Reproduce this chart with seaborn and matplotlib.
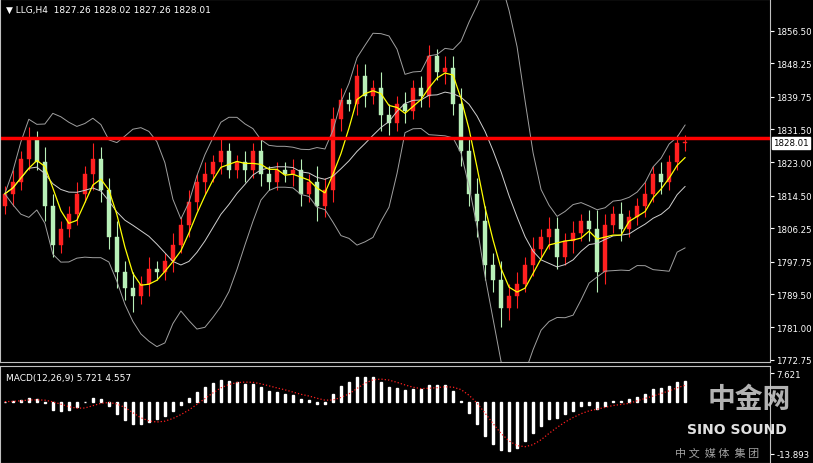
import matplotlib.pyplot as plt
import seaborn as sns
import numpy as np
import pandas as pd

# closing prices
closes = [1815, 1818, 1824, 1829, 1823, 1812, 1802, 1806, 1810, 1815,
          1820, 1824, 1816, 1804, 1795, 1791, 1789, 1792, 1796, 1795,
          1798, 1802, 1807, 1813, 1818, 1820, 1823, 1826, 1821, 1823,
          1821, 1826, 1820, 1818, 1821, 1820, 1821, 1815, 1818, 1812,
          1816, 1834, 1839, 1838, 1845, 1840, 1842, 1835, 1833, 1838,
          1836, 1842, 1840, 1850, 1846, 1847, 1838, 1826, 1815, 1808,
          1797, 1793, 1786, 1789, 1792, 1797, 1801, 1804, 1806, 1799,
          1803, 1805, 1808, 1806, 1795, 1807, 1810, 1806, 1809, 1812,
          1815, 1820, 1818, 1823, 1828, 1828]
first_open = 1812
wicks = [2, 3, 2, 3, 2, 4, 3, 2, 2, 3, 2, 4, 3, 3, 4, 3, 4, 2, 3, 2,
         2, 3, 2, 3, 2, 3, 2, 3, 2, 2, 3, 2, 3, 2, 2, 2, 3, 3, 2, 4,
         3, 3, 3, 2, 3, 3, 2, 4, 3, 2, 3, 2, 3, 3, 2, 3, 3, 4, 3, 4,
         4, 3, 5, 3, 3, 2, 3, 2, 3, 3, 2, 3, 2, 3, 5, 3, 2, 3, 2, 2,
         3, 2, 3, 2, 2, 2]
price_ticks = [1856.50, 1848.25, 1839.75, 1831.50, 1823.00, 1814.50,
               1806.25, 1797.75, 1789.50, 1781.00, 1772.75]
resistance = 1829.3
last_price = 1828.01

df = pd.DataFrame({'close': closes, 'wick': wicks})
df['open'] = df['close'].shift(1).fillna(first_open)
df['high'] = df[['open', 'close']].max(axis=1) + df['wick']
df['low'] = df[['open', 'close']].min(axis=1) - df['wick']
df['ma'] = df['close'].rolling(4, min_periods=1).mean()
mid = df['close'].rolling(10, min_periods=1).mean()
sd = df['close'].rolling(10, min_periods=1).std().fillna(0)
df['bb_mid'], df['bb_up'], df['bb_lo'] = mid, mid + 2 * sd, mid - 2 * sd
ema_f = df['close'].ewm(span=6).mean()
ema_s = df['close'].ewm(span=13).mean()
df['macd'] = ema_f - ema_s
df['signal'] = df['macd'].rolling(5, min_periods=1).mean()
x = np.arange(len(df))

sns.set_style('dark')
plt.rcParams['font.family'] = ['DejaVu Sans', 'Noto Sans CJK SC']
fig = plt.figure(figsize=(8.13, 4.64), dpi=100, facecolor='black')
ax = fig.add_axes([0.0, 1 - 363 / 464, 770 / 813, 363 / 464])
ax2 = fig.add_axes([0.0, 0.0, 770 / 813, 97 / 464])
for a in (ax, ax2):
    a.set_facecolor('black')
    for s in a.spines.values():
        s.set_color('#c0c0c0')
        s.set_linewidth(0.8)
    a.grid(False)
    a.yaxis.tick_right()
    a.tick_params(colors='white', labelsize=6.2, length=3, direction='out', pad=1.5)
    a.set_xticks([])
    a.set_xlim(-0.6, 95.6)

up = df['close'] >= df['open']
for i, r in df.iterrows():
    col = '#ff2020' if up[i] else '#b8f0b8'
    ax.vlines(i, r['low'], r['high'], color=col, lw=0.8)
    ax.bar(i, abs(r['close'] - r['open']) or 0.3, bottom=min(r['open'], r['close']),
           width=0.55, color=col, edgecolor=col, lw=0.3)

sns.lineplot(x=x, y=df['bb_up'], ax=ax, color='#a0a0a0', lw=0.7)
sns.lineplot(x=x, y=df['bb_lo'], ax=ax, color='#a0a0a0', lw=0.7)
sns.lineplot(x=x, y=df['bb_mid'], ax=ax, color='#d0d0d0', lw=0.7)
sns.lineplot(x=x, y=df['ma'], ax=ax, color='#ffff00', lw=0.9)
ax.axhline(resistance, color='#ff0000', lw=2.5)
ax.set_ylim(1772.2, 1864.6)
ax.set_yticks(price_ticks)
ax.set_yticklabels([f'{t:.2f}' for t in price_ticks])
ax.set_ylabel('')
ax.text(1.004, last_price, f'{last_price:.2f}', transform=ax.get_yaxis_transform(),
        va='center', ha='left', fontsize=6.2, color='black',
        bbox=dict(facecolor='white', edgecolor='white', pad=1))
ax.text(0.008, 0.985, '\u25bc LLG,H4  1827.26 1828.02 1827.26 1828.01',
        transform=ax.transAxes, va='top', fontsize=6.5, color='white')

ax2.bar(x, df['macd'], width=0.2, color='white')
sns.lineplot(x=x, y=df['signal'], ax=ax2, color='#ff2020', lw=0.9, linestyle=':')
lo, hi = -13.893, 7.621
ax2.set_ylim(lo * 1.18, hi * 1.25)
ax2.set_yticks([hi, lo])
ax2.set_yticklabels([f'{hi:.3f}', f'{lo:.3f}'])
ax2.set_ylabel('')
ax2.text(0.008, 0.93, 'MACD(12,26,9) 5.721 4.557', transform=ax2.transAxes,
         va='top', fontsize=6.5, color='white')

fig.text(0.87, 0.12, '中金网', fontsize=20, color='#c8c8c8', fontweight='bold',
         family=['Noto Sans CJK SC', 'DejaVu Sans'], alpha=0.9)
fig.text(0.845, 0.065, 'SINO SOUND', fontsize=10, color='#e0e0e0', fontweight='bold')
fig.text(0.83, 0.015, '中 文  媒 体  集 团', fontsize=8, color='#a0a0a0',
         family=['Noto Sans CJK SC', 'DejaVu Sans'])

fig.savefig('out.png', dpi=100, facecolor='black')
